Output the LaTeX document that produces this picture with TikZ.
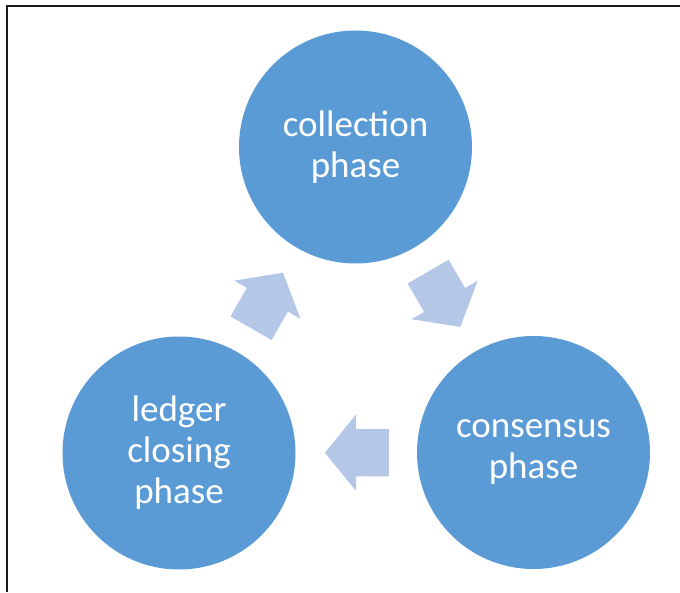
\documentclass[tikz,border=0pt]{standalone}
\usepackage{fontspec}
\setmainfont{Carlito}
\usetikzlibrary{positioning,shapes.arrows}
\definecolor{phaseblue}{HTML}{5B9BD5}
\definecolor{arrowblue}{HTML}{B4C7E7}
\definecolor{framegray}{HTML}{1A1A1A}

\begin{document}
\begin{tikzpicture}[
  x=1pt, y=1pt,
  phase/.style={circle, fill=phaseblue, text=white, align=center,
                minimum size=233pt, inner sep=0pt,
                font=\fontsize{37}{41}\selectfont},
  cyclearrow/.style={single arrow, fill=arrowblue, draw=none,
                minimum height=64pt, minimum width=0pt,
                inner xsep=0pt, inner ysep=23.5pt,
                single arrow head extend=14.5pt, single arrow tip angle=101.6,
                sloped, allow upside down, pos=.415},
  frame/.style={line width=2.8pt, color=framegray},
]
\useasboundingbox (0,0) rectangle (680,592);
\draw[frame] (7,0) -- (7,586) -- (680,586);

\node[phase] (collection) at (355.5,445) {collection\\phase};
\node[phase] (consensus)  at (533.5,139.5) {consensus\\phase};
\node[phase] (ledger)     at (179,139) {ledger\\closing\\phase};

\path (collection) -- node[cyclearrow]{} (consensus);
\path (consensus)  -- node[cyclearrow]{} (ledger);
\path (ledger)     -- node[cyclearrow]{} (collection);
\end{tikzpicture}
\end{document}
